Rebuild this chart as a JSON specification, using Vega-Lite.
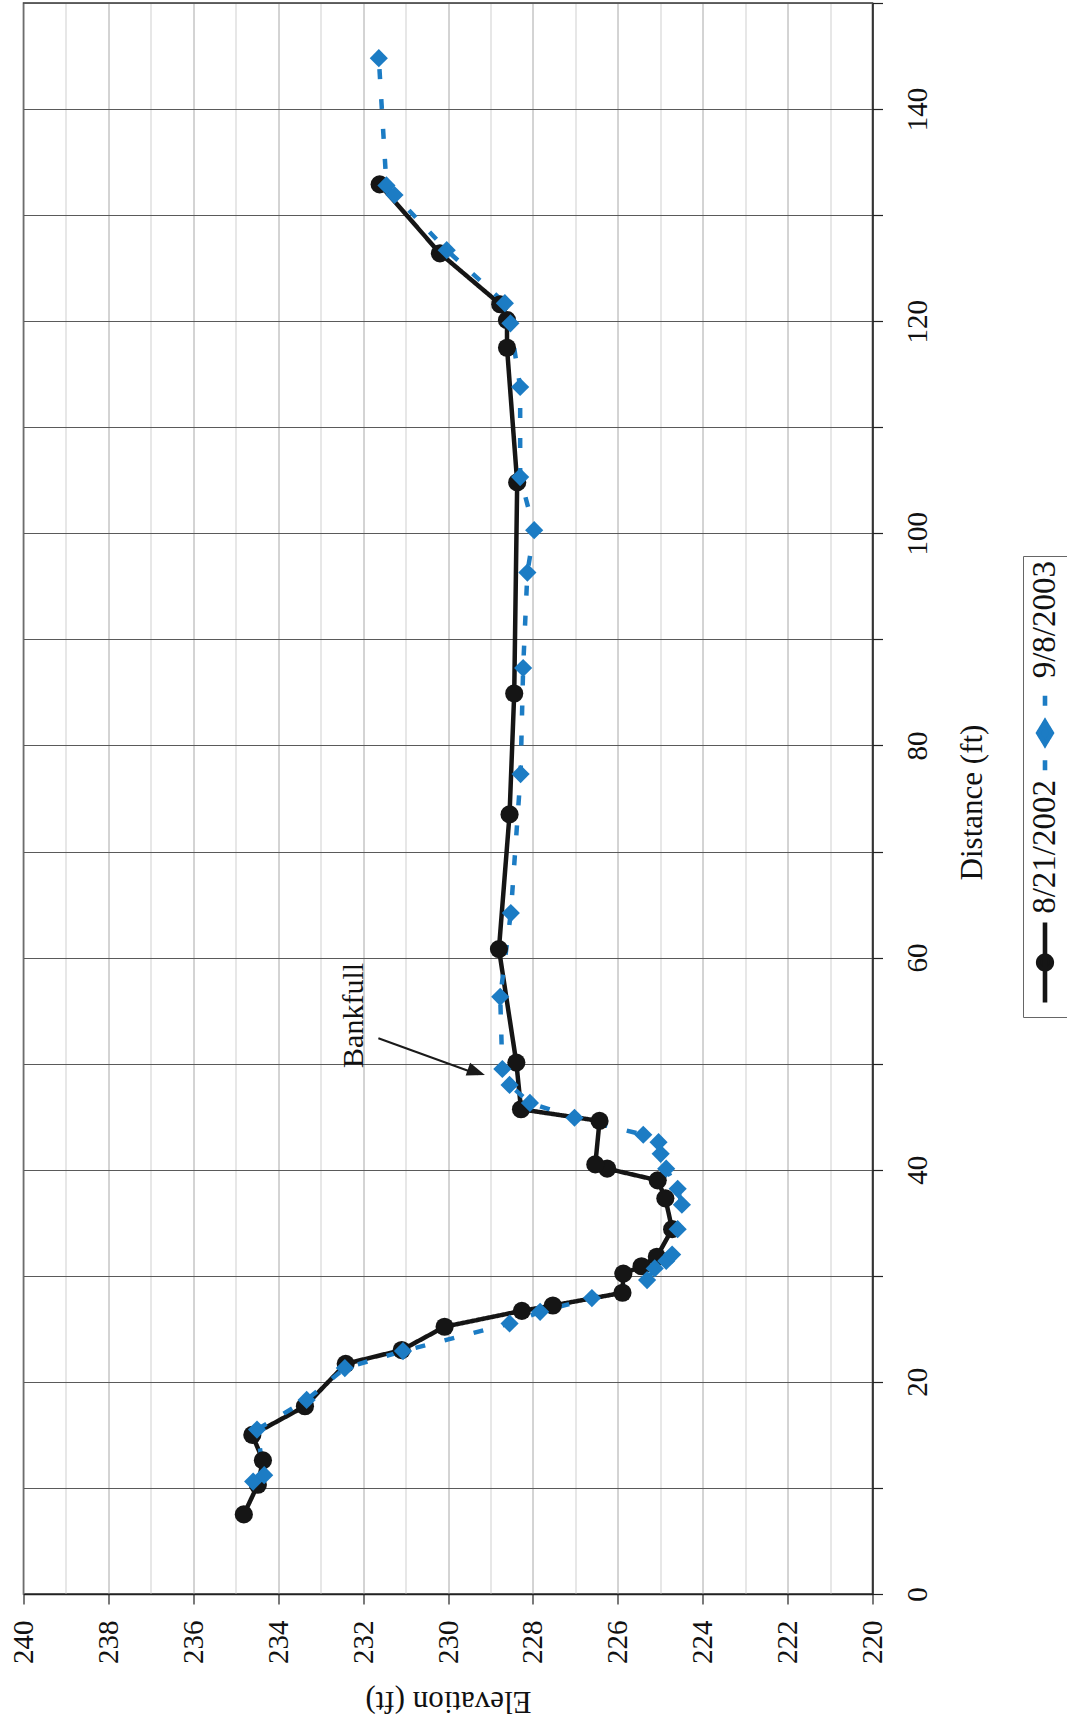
{
  "$schema": "https://vega.github.io/schema/vega-lite/v6.json",
  "width": 849,
  "height": 1591,
  "autosize": "none",
  "padding": {"left": 23.5, "top": 3, "right": 194.5, "bottom": 124},
  "background": "white",
  "config": {
    "font": "Liberation Serif",
    "view": {"stroke": "#333333", "strokeWidth": 1.5}
  },
  "data": {
    "values": [
      {"series": "8/21/2002", "distance": 7.5, "elevation": 234.81},
      {"series": "8/21/2002", "distance": 10.3, "elevation": 234.48},
      {"series": "8/21/2002", "distance": 12.6, "elevation": 234.36},
      {"series": "8/21/2002", "distance": 15.0, "elevation": 234.61},
      {"series": "8/21/2002", "distance": 17.7, "elevation": 233.37},
      {"series": "8/21/2002", "distance": 21.7, "elevation": 232.41},
      {"series": "8/21/2002", "distance": 23.0, "elevation": 231.09},
      {"series": "8/21/2002", "distance": 25.2, "elevation": 230.08},
      {"series": "8/21/2002", "distance": 26.7, "elevation": 228.26},
      {"series": "8/21/2002", "distance": 27.2, "elevation": 227.53},
      {"series": "8/21/2002", "distance": 28.4, "elevation": 225.89},
      {"series": "8/21/2002", "distance": 30.2, "elevation": 225.87},
      {"series": "8/21/2002", "distance": 30.9, "elevation": 225.44},
      {"series": "8/21/2002", "distance": 31.8, "elevation": 225.08},
      {"series": "8/21/2002", "distance": 34.4, "elevation": 224.72},
      {"series": "8/21/2002", "distance": 37.3, "elevation": 224.88},
      {"series": "8/21/2002", "distance": 39.0, "elevation": 225.06},
      {"series": "8/21/2002", "distance": 40.1, "elevation": 226.25},
      {"series": "8/21/2002", "distance": 40.5, "elevation": 226.53},
      {"series": "8/21/2002", "distance": 44.6, "elevation": 226.43},
      {"series": "8/21/2002", "distance": 45.7, "elevation": 228.28},
      {"series": "8/21/2002", "distance": 50.1, "elevation": 228.39},
      {"series": "8/21/2002", "distance": 60.8, "elevation": 228.8},
      {"series": "8/21/2002", "distance": 73.5, "elevation": 228.55},
      {"series": "8/21/2002", "distance": 84.9, "elevation": 228.44},
      {"series": "8/21/2002", "distance": 104.8, "elevation": 228.37},
      {"series": "8/21/2002", "distance": 117.5, "elevation": 228.61},
      {"series": "8/21/2002", "distance": 120.1, "elevation": 228.61},
      {"series": "8/21/2002", "distance": 121.6, "elevation": 228.77},
      {"series": "8/21/2002", "distance": 126.4, "elevation": 230.19},
      {"series": "8/21/2002", "distance": 132.9, "elevation": 231.61},
      {"series": "9/8/2003", "distance": 10.6, "elevation": 234.59},
      {"series": "9/8/2003", "distance": 11.2, "elevation": 234.33},
      {"series": "9/8/2003", "distance": 15.5, "elevation": 234.5},
      {"series": "9/8/2003", "distance": 18.3, "elevation": 233.33},
      {"series": "9/8/2003", "distance": 21.3, "elevation": 232.43},
      {"series": "9/8/2003", "distance": 22.9, "elevation": 231.06},
      {"series": "9/8/2003", "distance": 25.5, "elevation": 228.55},
      {"series": "9/8/2003", "distance": 26.6, "elevation": 227.83},
      {"series": "9/8/2003", "distance": 27.9, "elevation": 226.61},
      {"series": "9/8/2003", "distance": 29.6, "elevation": 225.31},
      {"series": "9/8/2003", "distance": 30.7, "elevation": 225.13},
      {"series": "9/8/2003", "distance": 31.4, "elevation": 224.86},
      {"series": "9/8/2003", "distance": 32.0, "elevation": 224.72},
      {"series": "9/8/2003", "distance": 34.4, "elevation": 224.59},
      {"series": "9/8/2003", "distance": 36.7, "elevation": 224.49},
      {"series": "9/8/2003", "distance": 38.2, "elevation": 224.59},
      {"series": "9/8/2003", "distance": 40.1, "elevation": 224.86},
      {"series": "9/8/2003", "distance": 41.5, "elevation": 224.99},
      {"series": "9/8/2003", "distance": 42.6, "elevation": 225.04},
      {"series": "9/8/2003", "distance": 43.3, "elevation": 225.4},
      {"series": "9/8/2003", "distance": 44.9, "elevation": 227.02},
      {"series": "9/8/2003", "distance": 46.3, "elevation": 228.07},
      {"series": "9/8/2003", "distance": 48.0, "elevation": 228.55},
      {"series": "9/8/2003", "distance": 49.5, "elevation": 228.72},
      {"series": "9/8/2003", "distance": 56.3, "elevation": 228.77},
      {"series": "9/8/2003", "distance": 64.2, "elevation": 228.52},
      {"series": "9/8/2003", "distance": 77.3, "elevation": 228.29},
      {"series": "9/8/2003", "distance": 87.3, "elevation": 228.23},
      {"series": "9/8/2003", "distance": 96.3, "elevation": 228.13},
      {"series": "9/8/2003", "distance": 100.3, "elevation": 227.97},
      {"series": "9/8/2003", "distance": 105.3, "elevation": 228.3},
      {"series": "9/8/2003", "distance": 113.8, "elevation": 228.3},
      {"series": "9/8/2003", "distance": 119.8, "elevation": 228.53},
      {"series": "9/8/2003", "distance": 121.7, "elevation": 228.66},
      {"series": "9/8/2003", "distance": 126.7, "elevation": 230.03},
      {"series": "9/8/2003", "distance": 131.9, "elevation": 231.26},
      {"series": "9/8/2003", "distance": 132.8, "elevation": 231.45},
      {"series": "9/8/2003", "distance": 144.8, "elevation": 231.63}
    ]
  },
  "layer": [
    {
      "encoding": {
        "x": {
          "field": "elevation",
          "type": "quantitative",
          "scale": {"domain": [220, 240], "reverse": true, "nice": false, "zero": false},
          "axis": {
            "orient": "bottom",
            "values": [220, 221, 222, 223, 224, 225, 226, 227, 228, 229, 230, 231, 232, 233, 234, 235, 236, 237, 238, 239, 240],
            "format": "d",
            "labelExpr": "datum.value % 2 === 0 ? datum.label : ''",
            "labelAngle": 270,
            "labelAlign": "right",
            "labelBaseline": "middle",
            "labelPadding": 16,
            "labelFont": "Liberation Serif",
            "labelFontSize": 29,
            "labelColor": "#111111",
            "labelOverlap": false,
            "labelFlush": false,
            "labelBound": false,
            "tickSize": 10,
            "tickWidth": 1.2,
            "tickColor": {"condition": {"test": "datum.value % 2 === 0", "value": "#222222"}, "value": "transparent"},
            "domainColor": "#222222",
            "domainWidth": 1.5,
            "grid": true,
            "gridWidth": 1,
            "gridColor": {"condition": {"test": "datum.value % 2 === 0", "value": "#a8a8a8"}, "value": "#cfcfcf"},
            "title": "Elevation (ft)",
            "titleFont": "Liberation Serif",
            "titleFontSize": 31,
            "titleFontWeight": "normal",
            "titleColor": "#111111",
            "titleAngle": 180,
            "titleAlign": "center",
            "titleBaseline": "alphabetic",
            "titleX": 424.5,
            "titleY": 97
          }
        },
        "y": {
          "field": "distance",
          "type": "quantitative",
          "scale": {"domain": [0, 150], "nice": false, "zero": false},
          "axis": {
            "orient": "right",
            "values": [0, 10, 20, 30, 40, 50, 60, 70, 80, 90, 100, 110, 120, 130, 140, 150],
            "format": "d",
            "labelExpr": "datum.value % 20 === 0 ? datum.label : ''",
            "labelAngle": 270,
            "labelAlign": "center",
            "labelBaseline": "top",
            "labelPadding": 20.5,
            "labelFont": "Liberation Serif",
            "labelFontSize": 29,
            "labelColor": "#111111",
            "labelOverlap": false,
            "labelFlush": false,
            "labelBound": false,
            "tickSize": 10,
            "tickWidth": 1.2,
            "tickColor": "#222222",
            "domainColor": "#222222",
            "domainWidth": 1.5,
            "grid": true,
            "gridWidth": 1.1,
            "gridColor": "#5a5a5a",
            "title": "Distance (ft)",
            "titleFont": "Liberation Serif",
            "titleFontSize": 31,
            "titleFontWeight": "normal",
            "titleColor": "#111111",
            "titleAngle": 270,
            "titleAlign": "center",
            "titleBaseline": "alphabetic",
            "titleX": 109,
            "titleY": 799
          }
        }
      },
      "layer": [
        {
          "mark": {"type": "line", "strokeWidth": 4.5, "strokeCap": "butt"},
          "encoding": {
            "order": {"field": "distance", "type": "quantitative"},
            "color": {
              "field": "series",
              "type": "nominal",
              "scale": {"domain": ["9/8/2003", "8/21/2002"], "range": ["#1c7cc4", "#151515"]},
              "legend": {
                "title": null,
                "orient": "none",
                "legendX": 999.5,
                "legendY": 553,
                "direction": "vertical",
                "columns": 1,
                "rowPadding": -3,
                "padding": 5,
                "strokeColor": "#666666",
                "fillColor": "white",
                "labelFont": "Liberation Serif",
                "labelFontSize": 33,
                "labelColor": "#111111",
                "labelLimit": 400,
                "symbolSize": 6400,
                "symbolStrokeWidth": 4.6,
                "encoding": {
                  "symbols": {
                    "x": {"value": 17},
                    "y": {"condition": {"test": "datum.value === '8/21/2002'", "value": 182.5}, "value": 172},
                    "size": {"value": 6400},
                    "strokeWidth": {"value": 4.6},
                    "strokeDash": {"value": [1, 0]},
                    "opacity": {"value": 1},
                    "shape": {"condition": {"test": "datum.value === '8/21/2002'", "value": "M0,-1L0,1M0.17,0A0.17,0.17,0,1,1,-0.17,0A0.17,0.17,0,1,1,0.17,0Z"}, "value": "M0,-0.93L0,-0.68M0,0.68L0,0.93M0,-0.28L0.17,0L0,0.28L-0.17,0Z"},
                    "fill": {"condition": {"test": "datum.value === '8/21/2002'", "value": "#151515"}, "value": "#1c7cc4"},
                    "stroke": {"condition": {"test": "datum.value === '8/21/2002'", "value": "#151515"}, "value": "#1c7cc4"}
                  },
                  "labels": {
                    "x": {"value": 17},
                    "y": {"value": 0},
                    "angle": {"value": 270},
                    "align": {"value": "right"},
                    "baseline": {"value": "middle"}
                  }
                }
              }
            },
            "strokeDash": {
              "field": "series",
              "type": "nominal",
              "scale": {"domain": ["8/21/2002", "9/8/2003"], "range": [[1, 0], [10, 20]]},
              "legend": null
            }
          }
        },
        {
          "mark": {"type": "point", "filled": true, "opacity": 1, "size": 330},
          "encoding": {
            "color": {
              "field": "series",
              "type": "nominal",
              "scale": {"domain": ["9/8/2003", "8/21/2002"], "range": ["#1c7cc4", "#151515"]},
              "legend": {
                "title": null,
                "orient": "none",
                "legendX": 999.5,
                "legendY": 553,
                "direction": "vertical",
                "columns": 1,
                "rowPadding": -3,
                "padding": 5,
                "strokeColor": "#666666",
                "fillColor": "white",
                "labelFont": "Liberation Serif",
                "labelFontSize": 33,
                "labelColor": "#111111",
                "labelLimit": 400,
                "symbolSize": 6400,
                "symbolStrokeWidth": 4.6,
                "encoding": {
                  "symbols": {
                    "x": {"value": 17},
                    "y": {"condition": {"test": "datum.value === '8/21/2002'", "value": 182.5}, "value": 172},
                    "size": {"value": 6400},
                    "strokeWidth": {"value": 4.6},
                    "strokeDash": {"value": [1, 0]},
                    "opacity": {"value": 1},
                    "shape": {"condition": {"test": "datum.value === '8/21/2002'", "value": "M0,-1L0,1M0.17,0A0.17,0.17,0,1,1,-0.17,0A0.17,0.17,0,1,1,0.17,0Z"}, "value": "M0,-0.93L0,-0.68M0,0.68L0,0.93M0,-0.28L0.17,0L0,0.28L-0.17,0Z"},
                    "fill": {"condition": {"test": "datum.value === '8/21/2002'", "value": "#151515"}, "value": "#1c7cc4"},
                    "stroke": {"condition": {"test": "datum.value === '8/21/2002'", "value": "#151515"}, "value": "#1c7cc4"}
                  },
                  "labels": {
                    "x": {"value": 17},
                    "y": {"value": 0},
                    "angle": {"value": 270},
                    "align": {"value": "right"},
                    "baseline": {"value": "middle"}
                  }
                }
              }
            },
            "shape": {
              "field": "series",
              "type": "nominal",
              "scale": {"domain": ["8/21/2002", "9/8/2003"], "range": ["circle", "diamond"]},
              "legend": null
            }
          }
        }
      ]
    },
    {
      "data": {"values": [{"label": "Bankfull"}]},
      "mark": {"type": "rule", "color": "#1a1a1a", "strokeWidth": 2},
      "encoding": {
        "x": {"datum": 231.64},
        "y": {"datum": 52.4, "axis": {"orient": "right"}},
        "x2": {"datum": 229.3},
        "y2": {"datum": 49.0}
      }
    },
    {
      "data": {"values": [{"label": "Bankfull"}]},
      "mark": {"type": "point", "shape": "M0,0L-1,-0.38L-1,0.38Z", "filled": true, "color": "#1a1a1a", "opacity": 1, "size": 1296, "angle": 19},
      "encoding": {
        "x": {"datum": 229.13},
        "y": {"datum": 48.93, "axis": {"orient": "right"}}
      }
    },
    {
      "data": {"values": [{"label": "Bankfull"}]},
      "mark": {"type": "text", "angle": 270, "align": "left", "baseline": "alphabetic", "font": "Liberation Serif", "fontSize": 30, "color": "#111111"},
      "encoding": {
        "x": {"datum": 232.0},
        "y": {"datum": 49.6, "axis": {"orient": "right"}},
        "text": {"field": "label"}
      }
    }
  ]
}
